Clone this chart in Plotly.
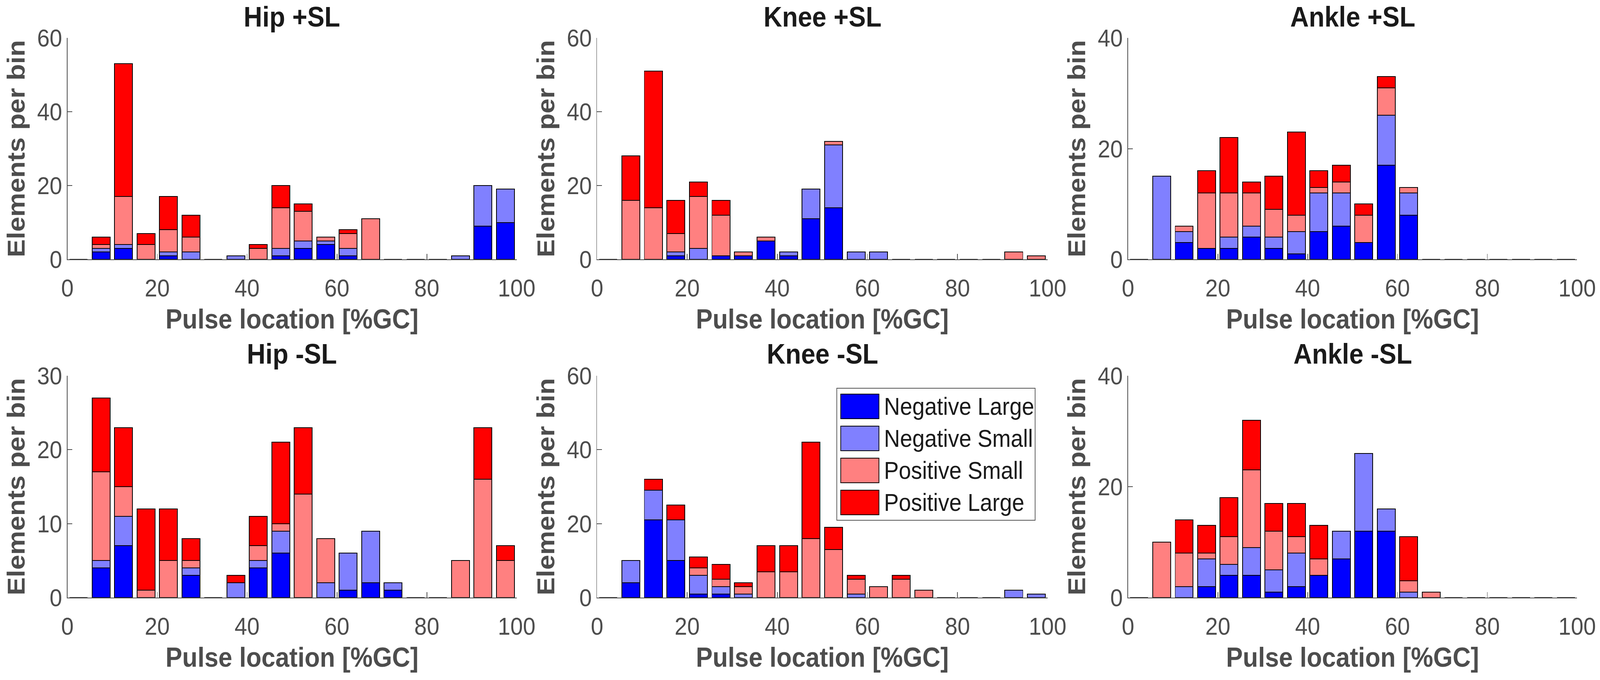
import plotly.graph_objects as go

# ---------------- data ----------------
bin_centers = [2.5, 7.5, 12.5, 17.5, 22.5, 27.5, 32.5, 37.5, 42.5, 47.5,
               52.5, 57.5, 62.5, 67.5, 72.5, 77.5, 82.5, 87.5, 92.5, 97.5]
series_names = ["Negative Large", "Negative Small", "Positive Small", "Positive Large"]
series_colors = ["#0000FF", "#8080FF", "#FF8080", "#FF0000"]

# Hip +SL
hip_p_nl = [0, 2, 3, 0, 1, 0, 0, 0, 0, 1, 3, 4, 1, 0, 0, 0, 0, 0, 9, 10]
hip_p_ns = [0, 1, 1, 0, 1, 2, 0, 1, 0, 2, 2, 1, 2, 0, 0, 0, 0, 1, 11, 9]
hip_p_ps = [0, 1, 13, 4, 6, 4, 0, 0, 3, 11, 8, 1, 4, 11, 0, 0, 0, 0, 0, 0]
hip_p_pl = [0, 2, 36, 3, 9, 6, 0, 0, 1, 6, 2, 0, 1, 0, 0, 0, 0, 0, 0, 0]

# Knee +SL
knee_p_nl = [0, 0, 0, 1, 0, 1, 1, 5, 1, 11, 14, 0, 0, 0, 0, 0, 0, 0, 0, 0]
knee_p_ns = [0, 0, 0, 1, 3, 0, 0, 0, 1, 8, 17, 2, 2, 0, 0, 0, 0, 0, 0, 0]
knee_p_ps = [0, 16, 14, 5, 14, 11, 1, 1, 0, 0, 1, 0, 0, 0, 0, 0, 0, 0, 2, 1]
knee_p_pl = [0, 12, 37, 9, 4, 4, 0, 0, 0, 0, 0, 0, 0, 0, 0, 0, 0, 0, 0, 0]

# Ankle +SL
ankle_p_nl = [0, 0, 3, 2, 2, 4, 2, 1, 5, 6, 3, 17, 8, 0, 0, 0, 0, 0, 0, 0]
ankle_p_ns = [0, 15, 2, 0, 2, 2, 2, 4, 7, 6, 0, 9, 4, 0, 0, 0, 0, 0, 0, 0]
ankle_p_ps = [0, 0, 1, 10, 8, 6, 5, 3, 1, 2, 5, 5, 1, 0, 0, 0, 0, 0, 0, 0]
ankle_p_pl = [0, 0, 0, 4, 10, 2, 6, 15, 3, 3, 2, 2, 0, 0, 0, 0, 0, 0, 0, 0]

# Hip -SL
hip_m_nl = [0, 4, 7, 0, 0, 3, 0, 0, 4, 6, 0, 0, 1, 2, 1, 0, 0, 0, 0, 0]
hip_m_ns = [0, 1, 4, 0, 0, 1, 0, 2, 1, 3, 0, 2, 5, 7, 1, 0, 0, 0, 0, 0]
hip_m_ps = [0, 12, 4, 1, 5, 1, 0, 0, 2, 1, 14, 6, 0, 0, 0, 0, 0, 5, 16, 5]
hip_m_pl = [0, 10, 8, 11, 7, 3, 0, 1, 4, 11, 9, 0, 0, 0, 0, 0, 0, 0, 7, 2]

# Knee -SL
knee_m_nl = [0, 4, 21, 10, 1, 1, 0, 0, 0, 0, 0, 0, 0, 0, 0, 0, 0, 0, 0, 0]
knee_m_ns = [0, 6, 8, 11, 5, 2, 1, 0, 0, 0, 0, 1, 0, 0, 0, 0, 0, 0, 2, 1]
knee_m_ps = [0, 0, 0, 0, 2, 2, 2, 7, 7, 16, 13, 4, 3, 5, 2, 0, 0, 0, 0, 0]
knee_m_pl = [0, 0, 3, 4, 3, 4, 1, 7, 7, 26, 6, 1, 0, 1, 0, 0, 0, 0, 0, 0]

# Ankle -SL
ankle_m_nl = [0, 0, 0, 2, 4, 4, 1, 2, 4, 7, 12, 12, 0, 0, 0, 0, 0, 0, 0, 0]
ankle_m_ns = [0, 0, 2, 5, 2, 5, 4, 6, 0, 5, 14, 4, 1, 0, 0, 0, 0, 0, 0, 0]
ankle_m_ps = [0, 10, 6, 1, 5, 14, 7, 3, 3, 0, 0, 0, 2, 1, 0, 0, 0, 0, 0, 0]
ankle_m_pl = [0, 0, 6, 5, 7, 9, 5, 6, 6, 0, 0, 0, 8, 0, 0, 0, 0, 0, 0, 0]

panel_titles = ["Hip +SL", "Knee +SL", "Ankle +SL", "Hip -SL", "Knee -SL", "Ankle -SL"]
panel_data = [
    [hip_p_nl, hip_p_ns, hip_p_ps, hip_p_pl],
    [knee_p_nl, knee_p_ns, knee_p_ps, knee_p_pl],
    [ankle_p_nl, ankle_p_ns, ankle_p_ps, ankle_p_pl],
    [hip_m_nl, hip_m_ns, hip_m_ps, hip_m_pl],
    [knee_m_nl, knee_m_ns, knee_m_ps, knee_m_pl],
    [ankle_m_nl, ankle_m_ns, ankle_m_ps, ankle_m_pl],
]
y_max = [60, 60, 40, 30, 60, 40]
y_step = [20, 20, 20, 10, 20, 20]
x_ticks = [0, 20, 40, 60, 80, 100]
x_title = "Pulse location [%GC]"
y_title = "Elements per bin"

# ---------------- layout geometry (pixels) ----------------
W, H = 4478, 1741
col_px = [(188.6, 1446), (1671, 2932), (3157, 4414)]
row_px = [(97, 664), (962, 1530)]
title_cy = [43, 906]

FONT = "Liberation Sans, Arial, Helvetica, sans-serif"
GRAY = "#4d4d4d"


def px_x(p):
    return p / W


def px_y(p):
    return 1 - p / H


fig = go.Figure()
layout = dict(
    width=W, height=H,
    margin=dict(l=0, r=0, t=0, b=0, autoexpand=False),
    paper_bgcolor="white", plot_bgcolor="white",
    barmode="stack", bargap=0.2,
    font=dict(family=FONT, color=GRAY),
    showlegend=False,
)
annotations = []
shapes = []

for i in range(6):
    r, c = divmod(i, 3)
    ax = "" if i == 0 else str(i + 1)
    xa, ya = "x" + ax, "y" + ax
    x0, x1 = col_px[c]
    y0, y1 = row_px[r]
    for k in range(4):
        fig.add_trace(go.Bar(
            x=bin_centers, y=panel_data[i][k], name=series_names[k],
            marker=dict(color=series_colors[k], line=dict(color="black", width=2)),
            width=4, xaxis=xa, yaxis=ya, legendgroup=series_names[k],
        ))
    layout["xaxis" + ax] = dict(
        domain=[px_x(x0), px_x(x1)], anchor=ya, range=[0, 100], automargin=False,
        tickvals=x_ticks, ticks="inside", ticklen=14, tickwidth=2, tickcolor=GRAY,
        ticklabelstandoff=17,
        showline=True, linecolor=GRAY, linewidth=2, showgrid=False, zeroline=False,
        tickfont=dict(size=63, color=GRAY, family=FONT),
        title=dict(text="<b>" + x_title + "</b>", font=dict(size=70, color=GRAY, family=FONT), standoff=21),
    )
    layout["yaxis" + ax] = dict(
        domain=[px_y(y1), px_y(y0)], anchor=xa, range=[0, y_max[i]], automargin=False,
        tickvals=list(range(0, y_max[i] + 1, y_step[i])),
        ticks="inside", ticklen=14, tickwidth=2, tickcolor=GRAY,
        showline=True, linecolor=GRAY, linewidth=2, showgrid=False, zeroline=False,
        tickfont=dict(size=63, color=GRAY, family=FONT),
        title=dict(text="<b>" + y_title + "</b>", font=dict(size=69, color=GRAY, family=FONT), standoff=12),
    )
    annotations.append(dict(
        text="<b>" + panel_titles[i] + "</b>", xref="paper", yref="paper",
        x=px_x((x0 + x1) / 2), y=px_y(title_cy[r]), xanchor="center", yanchor="middle",
        showarrow=False, font=dict(size=72, color="#1a1a1a", family=FONT),
    ))

# ---------------- legend (drawn box, real text) ----------------
leg_box = (2342, 994, 2897, 1332)
shapes.append(dict(type="rect", xref="paper", yref="paper",
                   x0=px_x(leg_box[0]), x1=px_x(leg_box[2]),
                   y0=px_y(leg_box[3]), y1=px_y(leg_box[1]),
                   line=dict(color="#555555", width=2), fillcolor="white", layer="above"))
row_tops = [1009, 1091, 1173, 1255]
sw_h = 63
for k in range(4):
    t = row_tops[k]
    shapes.append(dict(type="rect", xref="paper", yref="paper",
                       x0=px_x(2353), x1=px_x(2460), y0=px_y(t + sw_h), y1=px_y(t),
                       line=dict(color="black", width=2), fillcolor=series_colors[k], layer="above"))
    annotations.append(dict(
        text=series_names[k], xref="paper", yref="paper",
        x=px_x(2472), y=px_y(t + sw_h / 2), xanchor="left", yanchor="middle",
        showarrow=False, font=dict(size=62, color="#1a1a1a", family=FONT),
    ))

layout["annotations"] = annotations
layout["shapes"] = shapes
fig.update_layout(**layout)

# fit the fixed-size figure exactly into the browser viewport
fit_script = """
(function(){
  var gd = document.getElementById('{plot_id}');
  document.documentElement.style.margin = '0';
  document.documentElement.style.overflow = 'hidden';
  document.body.style.margin = '0';
  document.body.style.overflow = 'hidden';
  var sx = window.innerWidth / %d, sy = window.innerHeight / %d;
  if (sx > 0 && sy > 0 && (Math.abs(sx - 1) > 0.002 || Math.abs(sy - 1) > 0.002)) {
    gd.style.transformOrigin = '0 0';
    gd.style.transform = 'scale(' + sx + ',' + sy + ')';
  }
})();
""" % (W, H)
fig.write_html("out.html", post_script=fit_script, config={"displayModeBar": False})
